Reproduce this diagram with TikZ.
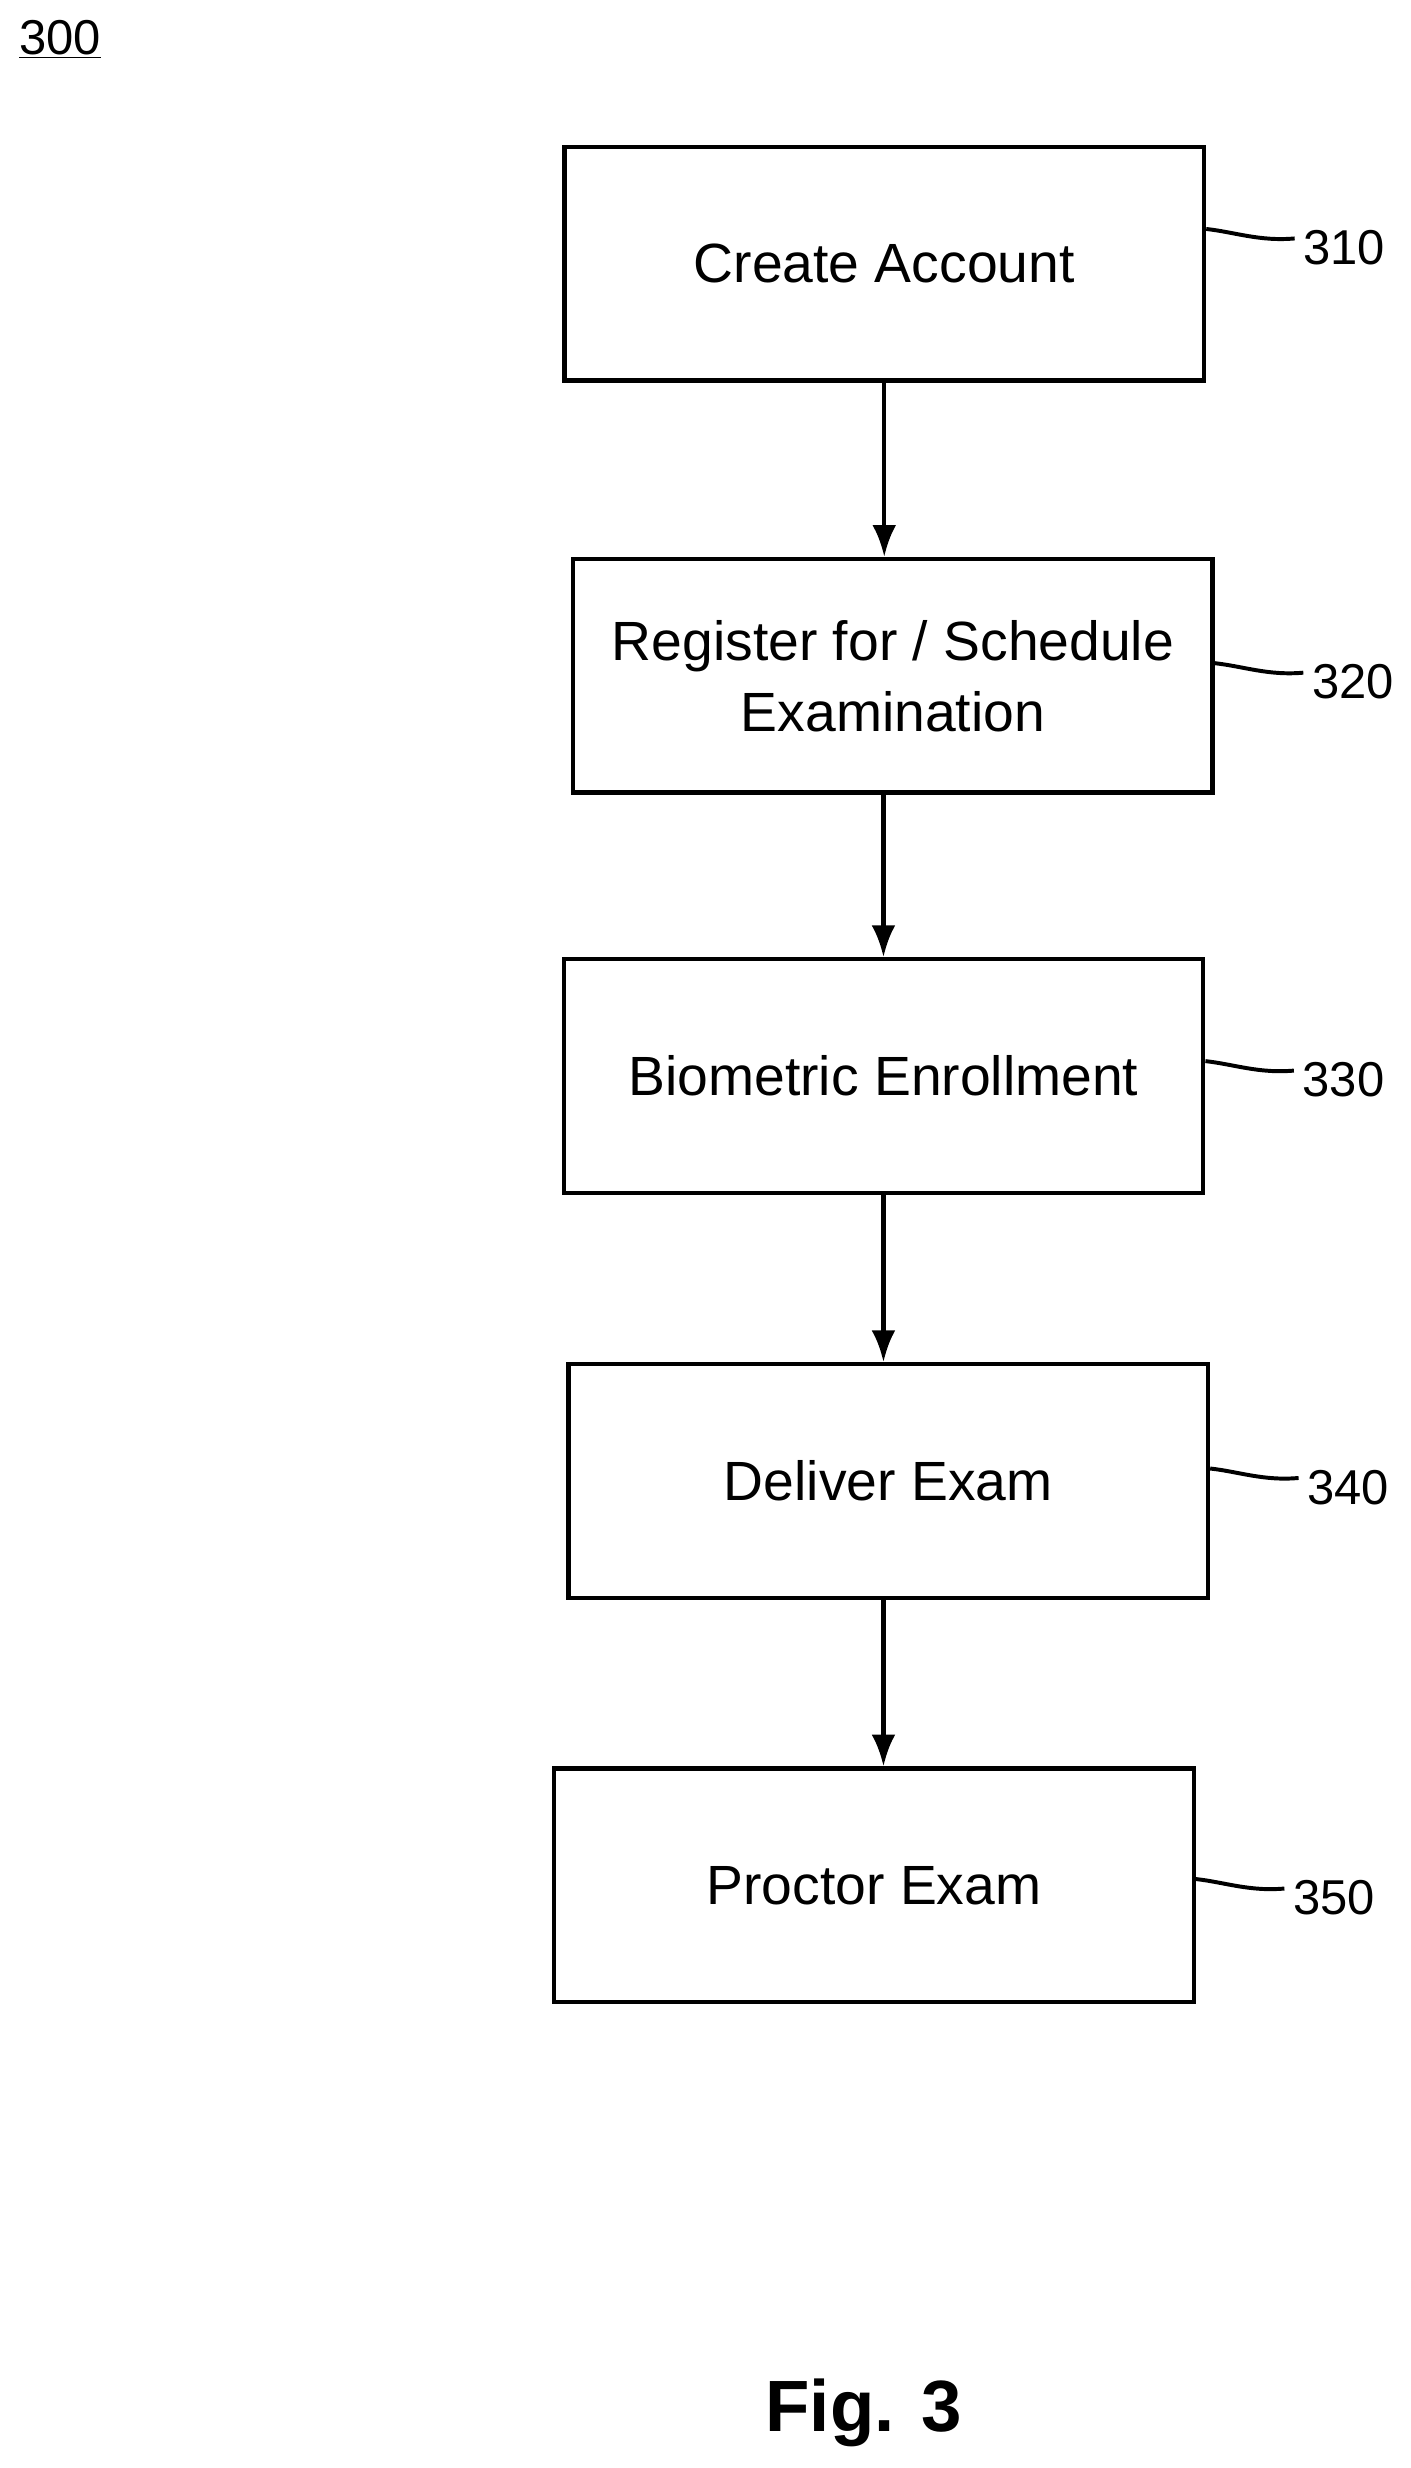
\documentclass[tikz,border=0pt]{standalone}
\usepackage{fontspec}
\setmainfont{Liberation Sans}
\usetikzlibrary{arrows.meta}
\begin{document}
\begin{tikzpicture}[x=1pt,y=-1pt,
  box/.style={draw,line width=2.8pt,minimum width=405pt,minimum height=148pt,align=center,font=\fontsize{35}{45}\selectfont,inner sep=0pt},
  ref/.style={font=\fontsize{31}{34}\selectfont,anchor=west},
  arr/.style={line width=2.8pt,-{Latex[length=20pt,width=15pt]}},
  sq/.style={line width=2.5pt}]
\useasboundingbox (0,0) rectangle (893,1563);
\node[font=\fontsize{31}{34}\selectfont] (n300) at (38,25) {\underline{300}};
\node[box] (b1) at (560,167) {Create Account};
\node[box] (b2) at (565.5,428) {Register for / Schedule\\Examination};
\node[box] (b3) at (559.5,681.5) {Biometric Enrollment};
\node[box] (b4) at (562.5,938) {Deliver Exam};
\node[box] (b5) at (553.5,1194) {Proctor Exam};
\foreach \b/\t/\y in {b1/310/145,b2/320/420,b3/330/672,b4/340/930,b5/350/1190}{
  \coordinate (s\b) at (\b.east |- 0,\y);
  \node[ref] (l\b) at ([xshift=58pt,yshift=-12pt]s\b) {\t};
  \draw[sq] (s\b) .. controls +(18,2) and +(-22,2) .. ([xshift=56pt,yshift=-6pt]s\b);
}
\draw[arr] (b1.south) -- (b1.south |- b2.north);
\draw[arr] (b3.north |- b2.south) -- (b3.north);
\draw[arr] (b3.south) -- (b3.south |- b4.north);
\draw[arr] (b3.south |- b4.south) -- (b3.south |- b5.north);
\node[font=\fontsize{46}{50}\selectfont\bfseries] (fig) at (547,1528) {Fig. 3};
\end{tikzpicture}
\end{document}
